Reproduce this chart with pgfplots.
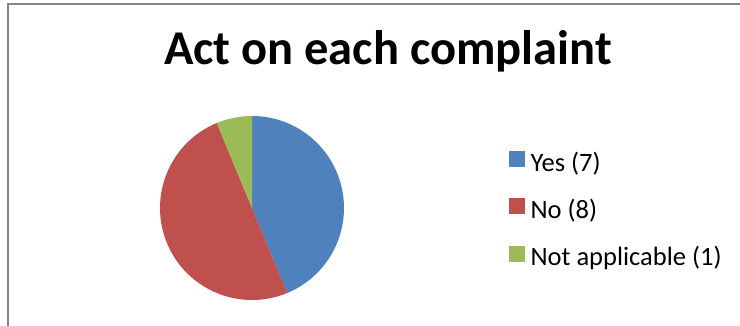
\documentclass[border=0pt]{standalone}
\usepackage{pgfplots}
\pgfplotsset{compat=1.18}
\usepackage{pgfplotstable}
\usepackage{fontspec}
\setmainfont{Carlito}
\definecolor{cyes}{HTML}{4F81BD}
\definecolor{cno}{HTML}{C0504D}
\definecolor{cna}{HTML}{9BBB59}
\definecolor{cframe}{HTML}{868686}
\pgfplotstableread{
label value
Yes 7
No 8
NA 1
}\piedata
\pgfplotstablegetelem{0}{value}\of\piedata \let\vA\pgfplotsretval
\pgfplotstablegetelem{1}{value}\of\piedata \let\vB\pgfplotsretval
\pgfplotstablegetelem{2}{value}\of\piedata \let\vC\pgfplotsretval
\pgfmathsetmacro{\vT}{\vA+\vB+\vC}
\pgfmathsetmacro{\dA}{360*\vA/\vT}
\pgfmathsetmacro{\dB}{360*\vB/\vT}
\pgfmathsetmacro{\dC}{360*\vC/\vT}
\pgfmathsetmacro{\sB}{90-\dA}
\pgfmathsetmacro{\sC}{90-\dA-\dB}
\begin{document}
\begin{tikzpicture}
\begin{axis}[
  scale only axis, width=740pt, height=326pt,
  xmin=0, xmax=740, ymin=0, ymax=326,
  hide axis, clip=false,
  legend style={
    at={(axis cs:506,177)}, anchor=north west,
    draw=none, fill=none,
    font=\fontsize{26.5}{30}\selectfont,
    nodes={inner sep=0pt, text height=17pt, text depth=6pt},
    row sep=21pt,
    /tikz/every odd column/.append style={column sep=6pt},
  },
  legend cell align=left,
]
\fill[cyes] (axis cs:252,118) -- ++(90:92pt) arc[start angle=90, delta angle=-\dA, radius=92pt] -- cycle;
\fill[cno] (axis cs:252,118) -- ++(\sB:92pt) arc[start angle=\sB, delta angle=-\dB, radius=92pt] -- cycle;
\fill[cna] (axis cs:252,118) -- ++(\sC:92pt) arc[start angle=\sC, delta angle=-\dC, radius=92pt] -- cycle;
\addlegendimage{legend image code/.code={\fill[cyes] (0pt,-0.5pt) rectangle (15pt,14.5pt);}}
\addlegendentry{Yes (7)}
\addlegendimage{legend image code/.code={\fill[cno] (0pt,-0.5pt) rectangle (15pt,14.5pt);}}
\addlegendentry{No (8)}
\addlegendimage{legend image code/.code={\fill[cna] (0pt,-0.5pt) rectangle (15pt,14.5pt);}}
\addlegendentry{Not applicable (1)}
\node[font=\bfseries\fontsize{48.5}{58}\selectfont, anchor=base] at (axis cs:388,261) {Act on each complaint};
\end{axis}
\draw[cframe, line width=1.5pt] ([xshift=8pt]current axis.south west) |- ([yshift=-4pt]current axis.north east);
\pgfresetboundingbox
\useasboundingbox (current axis.south west) rectangle (current axis.north east);
\end{tikzpicture}
\end{document}
